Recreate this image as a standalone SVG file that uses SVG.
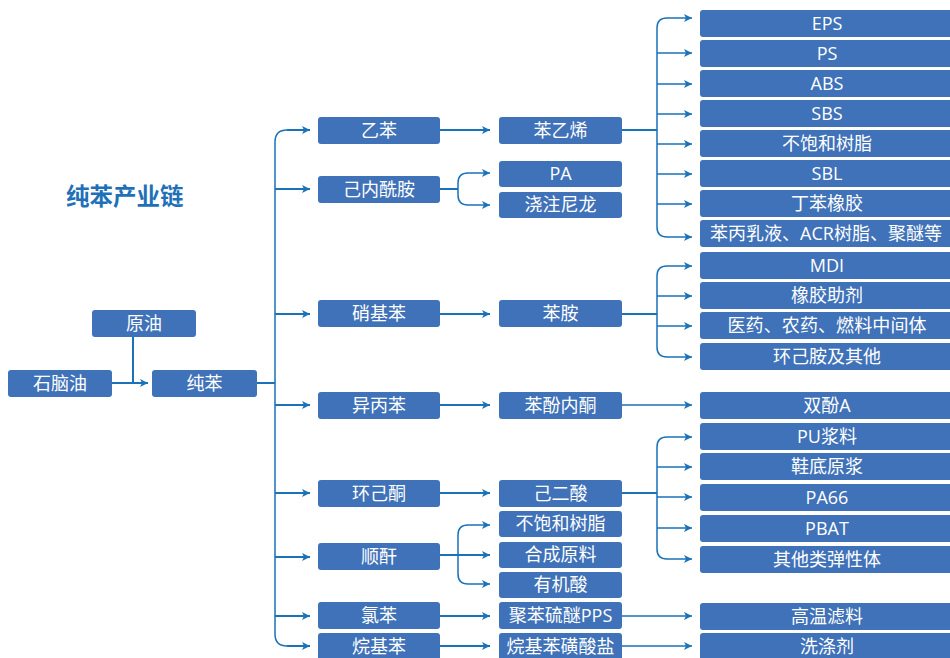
<svg xmlns="http://www.w3.org/2000/svg" width="950" height="658" viewBox="0 0 950 658">
<defs>
<style>
.n rect{fill:#3F72B8;}
.n text{fill:#fff;font-family:"Open Sans","Noto Sans CJK SC",sans-serif;font-size:18px;text-anchor:middle;}
.c path{fill:none;stroke:#1A72B8;}
.t{stroke-width:2;}
.b{stroke-width:1.5;}
.title{fill:#1E70B8;font-family:"Noto Sans CJK SC",sans-serif;font-size:23.5px;font-weight:bold;}
</style>
<marker id="a" viewBox="0 0 10 10" refX="10" refY="5" markerWidth="10" markerHeight="8" markerUnits="userSpaceOnUse" orient="auto">
<path d="M0,0 L10,5 L0,10 L2.5,5 z" fill="#1A72B8"/>
</marker>
</defs>
<rect width="950" height="658" fill="#fff"/>
<text class="title" x="66" y="205">纯苯产业链</text>

<g class="c">
<path class="t" d="M133,337 V383 M257,383 H275 M440,189 H458 M622,130 H657 M622,314 H657 M622,493 H657"/>
<path class="t" d="M112,383 H148" marker-end="url(#a)"/>
<path class="b" d="M287,130 Q275,130 275,142 V634 Q275,646 287,646"/>
<path class="t" d="M287,130 H310" marker-end="url(#a)"/>
<path class="t" d="M275,189 H310" marker-end="url(#a)"/>
<path class="t" d="M275,314 H310" marker-end="url(#a)"/>
<path class="t" d="M275,405 H310" marker-end="url(#a)"/>
<path class="t" d="M275,493 H310" marker-end="url(#a)"/>
<path class="t" d="M275,557 H310" marker-end="url(#a)"/>
<path class="t" d="M275,616 H310" marker-end="url(#a)"/>
<path class="t" d="M287,646 H310" marker-end="url(#a)"/>
<path class="t" d="M440,130 H490" marker-end="url(#a)"/>
<path class="t" d="M440,314 H490" marker-end="url(#a)"/>
<path class="t" d="M440,405 H490" marker-end="url(#a)"/>
<path class="t" d="M440,493 H490" marker-end="url(#a)"/>
<path class="t" d="M440,616 H490" marker-end="url(#a)"/>
<path class="t" d="M440,646 H490" marker-end="url(#a)"/>
<path class="b" d="M468,173 Q458,173 458,183 V195 Q458,205 468,205"/>
<path class="b" d="M468,173 H490" marker-end="url(#a)"/>
<path class="b" d="M468,205 H490" marker-end="url(#a)"/>
<path class="t" d="M433,555 H490" marker-end="url(#a)"/>
<path class="b" d="M468,525 Q458,525 458,535 V574 Q458,584 468,584"/>
<path class="b" d="M468,525 H490" marker-end="url(#a)"/>
<path class="b" d="M468,584 H490" marker-end="url(#a)"/>
<path class="b" d="M667,18 Q657,18 657,28 V227 Q657,237 667,237"/>
<path class="b" d="M667,18 H692" marker-end="url(#a)"/>
<path class="b" d="M657,53 H692" marker-end="url(#a)"/>
<path class="b" d="M657,84 H692" marker-end="url(#a)"/>
<path class="b" d="M657,114 H692" marker-end="url(#a)"/>
<path class="b" d="M657,144 H692" marker-end="url(#a)"/>
<path class="b" d="M657,174 H692" marker-end="url(#a)"/>
<path class="b" d="M657,204 H692" marker-end="url(#a)"/>
<path class="b" d="M667,237 H692" marker-end="url(#a)"/>
<path class="b" d="M667,266 Q657,266 657,276 V347 Q657,357 667,357"/>
<path class="b" d="M667,266 H692" marker-end="url(#a)"/>
<path class="b" d="M657,296 H692" marker-end="url(#a)"/>
<path class="b" d="M657,326 H692" marker-end="url(#a)"/>
<path class="b" d="M667,357 H692" marker-end="url(#a)"/>
<path class="b" d="M622,405 H692" marker-end="url(#a)"/>
<path class="b" d="M667,437 Q657,437 657,447 V549 Q657,559 667,559"/>
<path class="b" d="M667,437 H692" marker-end="url(#a)"/>
<path class="b" d="M657,467 H692" marker-end="url(#a)"/>
<path class="b" d="M657,497 H692" marker-end="url(#a)"/>
<path class="b" d="M657,528 H692" marker-end="url(#a)"/>
<path class="b" d="M667,559 H692" marker-end="url(#a)"/>
<path class="b" d="M622,616 H692" marker-end="url(#a)"/>
<path class="b" d="M622,646 H692" marker-end="url(#a)"/>
</g>

<g id="n-naphtha" class="n"><rect x="8" y="370" width="104" height="27" rx="3"/><text x="60" y="390">石脑油</text></g>
<g id="n-crude" class="n"><rect x="92" y="310" width="104" height="27" rx="3"/><text x="144" y="330">原油</text></g>
<g id="n-benzene" class="n"><rect x="152" y="370" width="105" height="27" rx="3"/><text x="204.5" y="390">纯苯</text></g>

<g id="n-ethylbenzene" class="n"><rect x="318" y="117" width="122" height="27" rx="3"/><text x="379" y="137">乙苯</text></g>
<g id="n-caprolactam" class="n"><rect x="318" y="176" width="122" height="27" rx="3"/><text x="379" y="196">己内酰胺</text></g>
<g id="n-nitrobenzene" class="n"><rect x="318" y="300" width="122" height="27" rx="3"/><text x="379" y="320">硝基苯</text></g>
<g id="n-cumene" class="n"><rect x="318" y="392" width="122" height="27" rx="3"/><text x="379" y="412">异丙苯</text></g>
<g id="n-cyclohexanone" class="n"><rect x="318" y="480" width="122" height="27" rx="3"/><text x="379" y="500">环己酮</text></g>
<g id="n-maleic" class="n"><rect x="318" y="543" width="122" height="27" rx="3"/><text x="379" y="563">顺酐</text></g>
<g id="n-chlorobenzene" class="n"><rect x="318" y="602" width="122" height="27" rx="3"/><text x="379" y="622">氯苯</text></g>
<g id="n-alkylbenzene" class="n"><rect x="318" y="633" width="122" height="27" rx="3"/><text x="379" y="653">烷基苯</text></g>

<g id="n-styrene" class="n"><rect x="499" y="117" width="123" height="27" rx="3"/><text x="560.5" y="137">苯乙烯</text></g>
<g id="n-pa" class="n"><rect x="499" y="161" width="123" height="26" rx="3"/><text x="560.5" y="180">PA</text></g>
<g id="n-castnylon" class="n"><rect x="499" y="192" width="123" height="26" rx="3"/><text x="560.5" y="211">浇注尼龙</text></g>
<g id="n-aniline" class="n"><rect x="499" y="300" width="123" height="27" rx="3"/><text x="560.5" y="320">苯胺</text></g>
<g id="n-phenol" class="n"><rect x="499" y="392" width="123" height="27" rx="3"/><text x="560.5" y="412">苯酚内酮</text></g>
<g id="n-adipic" class="n"><rect x="499" y="480" width="123" height="27" rx="3"/><text x="560.5" y="500">己二酸</text></g>
<g id="n-upr2" class="n"><rect x="499" y="511" width="123" height="26" rx="3"/><text x="560.5" y="530">不饱和树脂</text></g>
<g id="n-synth" class="n"><rect x="499" y="542" width="123" height="26" rx="3"/><text x="560.5" y="561">合成原料</text></g>
<g id="n-organic" class="n"><rect x="499" y="572" width="123" height="26" rx="3"/><text x="560.5" y="591">有机酸</text></g>
<g id="n-pps" class="n"><rect x="499" y="602" width="123" height="27" rx="3"/><text x="560.5" y="622">聚苯硫醚PPS</text></g>
<g id="n-las" class="n"><rect x="499" y="633" width="123" height="27" rx="3"/><text x="560.5" y="653">烷基苯磺酸盐</text></g>

<g id="n-eps" class="n"><rect x="700" y="10" width="260" height="27" rx="3"/><text x="827" y="30">EPS</text></g>
<g id="n-ps" class="n"><rect x="700" y="40" width="260" height="27" rx="3"/><text x="827" y="60">PS</text></g>
<g id="n-abs" class="n"><rect x="700" y="70" width="260" height="27" rx="3"/><text x="827" y="90">ABS</text></g>
<g id="n-sbs" class="n"><rect x="700" y="100" width="260" height="27" rx="3"/><text x="827" y="120">SBS</text></g>
<g id="n-upr" class="n"><rect x="700" y="130" width="260" height="27" rx="3"/><text x="827" y="150">不饱和树脂</text></g>
<g id="n-sbl" class="n"><rect x="700" y="160" width="260" height="27" rx="3"/><text x="827" y="180">SBL</text></g>
<g id="n-sbr" class="n"><rect x="700" y="190" width="260" height="27" rx="3"/><text x="827" y="210">丁苯橡胶</text></g>
<g id="n-latex" class="n"><rect x="700" y="220" width="260" height="27" rx="3"/><text x="826" y="240">苯丙乳液、ACR树脂、聚醚等</text></g>
<g id="n-mdi" class="n"><rect x="700" y="252" width="260" height="27" rx="3"/><text x="827" y="272">MDI</text></g>
<g id="n-rubberaux" class="n"><rect x="700" y="282" width="260" height="27" rx="3"/><text x="827" y="302">橡胶助剂</text></g>
<g id="n-pharma" class="n"><rect x="700" y="312" width="260" height="27" rx="3"/><text x="827" y="332" textLength="199" lengthAdjust="spacing">医药、农药、燃料中间体</text></g>
<g id="n-cha" class="n"><rect x="700" y="343" width="260" height="27" rx="3"/><text x="827" y="363">环己胺及其他</text></g>
<g id="n-bpa" class="n"><rect x="700" y="392" width="260" height="27" rx="3"/><text x="827" y="412">双酚A</text></g>
<g id="n-pu" class="n"><rect x="700" y="423" width="260" height="27" rx="3"/><text x="827" y="443">PU浆料</text></g>
<g id="n-sole" class="n"><rect x="700" y="453" width="260" height="27" rx="3"/><text x="827" y="473">鞋底原浆</text></g>
<g id="n-pa66" class="n"><rect x="700" y="484" width="260" height="27" rx="3"/><text x="827" y="504">PA66</text></g>
<g id="n-pbat" class="n"><rect x="700" y="515" width="260" height="27" rx="3"/><text x="827" y="535">PBAT</text></g>
<g id="n-elast" class="n"><rect x="700" y="546" width="260" height="27" rx="3"/><text x="827" y="566">其他类弹性体</text></g>
<g id="n-filter" class="n"><rect x="700" y="603" width="260" height="27" rx="3"/><text x="827" y="623">高温滤料</text></g>
<g id="n-detergent" class="n"><rect x="700" y="633" width="260" height="27" rx="3"/><text x="827" y="653">洗涤剂</text></g>
</svg>
